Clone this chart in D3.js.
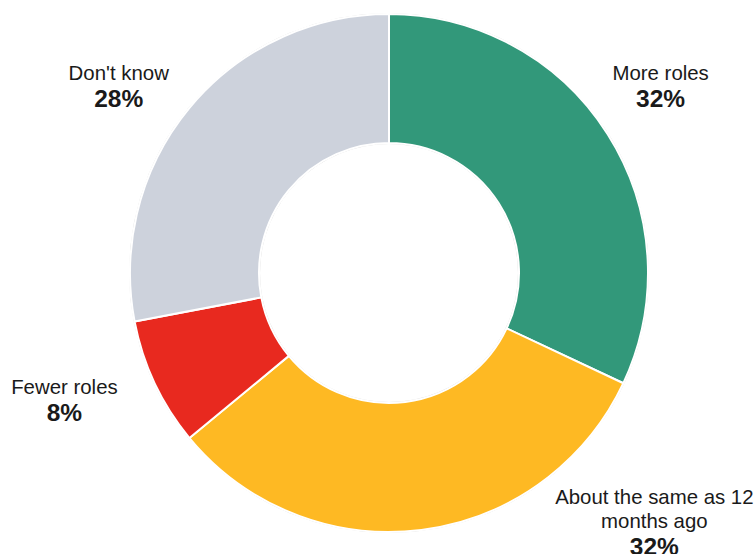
<!DOCTYPE html>
<html>
<head>
<meta charset="utf-8">
<script src="https://cdn.jsdelivr.net/npm/d3@7"></script>
<style>
  html, body { margin: 0; padding: 0; background: #fff; }
  svg { display: block; }
  text { font-family: "Liberation Sans", Arial, sans-serif; fill: #1a1a1a; }
</style>
</head>
<body>
<svg id="chart" width="755" height="554"></svg>
<script>
// Survey answers and their shares (percent)
const categories = ["More roles", "About the same as 12 months ago", "Fewer roles", "Don't know"];
const shares = [32, 32, 8, 28];
const colors = ["#32987a", "#feb923", "#e8291f", "#cdd2dc"];
// Wrapped label lines for each answer
const labelLines = [["More roles"], ["About the same as 12", "months ago"], ["Fewer roles"], ["Don't know"]];

const width = 755, height = 554;
const cx = 389, cy = 273;
const outerR = 259, innerR = 130;

// Label placement: point at labelRadius on the slice's mid-angle, shifted by a nudge;
// the resulting point is the baseline of the first label line
const labelRadius = 330;
const labelNudge = [[-7, -16], [224, -96], [-26, -19.5], [-16, 17.5]];
const lineH = 23.5, valueGap = 27;

const svg = d3.select("#chart");
const g = svg.append("g").attr("transform", `translate(${cx},${cy})`);

const data = categories.map((c, i) => ({ name: c, value: shares[i], color: colors[i], lines: labelLines[i], nudge: labelNudge[i] }));

const pie = d3.pie().sort(null).value(d => d.value);
const arc = d3.arc().innerRadius(innerR).outerRadius(outerR);
const arcs = pie(data);

// faint rims around the ring
g.append("circle").attr("r", outerR + 0.5).attr("fill", "none").attr("stroke", "#d9d9d9").attr("stroke-width", 1);
g.append("circle").attr("r", innerR - 0.5).attr("fill", "none").attr("stroke", "#d9d9d9").attr("stroke-width", 1);

g.selectAll("path.slice")
  .data(arcs)
  .join("path")
  .attr("class", "slice")
  .attr("d", arc)
  .attr("fill", d => d.data.color)
  .attr("stroke", "#fff")
  .attr("stroke-width", 2)
  .attr("stroke-linejoin", "round");

// labels
const labels = g.selectAll("g.label")
  .data(arcs)
  .join("g")
  .attr("class", "label")
  .attr("transform", d => {
    const a = (d.startAngle + d.endAngle) / 2;
    const x = labelRadius * Math.sin(a) + d.data.nudge[0];
    const y = -labelRadius * Math.cos(a) + d.data.nudge[1];
    return `translate(${x},${y})`;
  });

labels.each(function(d) {
  const el = d3.select(this);
  const n = d.data.lines.length;
  d.data.lines.forEach((t, i) => {
    el.append("text")
      .attr("text-anchor", "middle")
      .attr("x", 0)
      .attr("y", i * lineH)
      .style("font-size", "20.4px")
      .text(t);
  });
  el.append("text")
    .attr("text-anchor", "middle")
    .attr("x", 0)
    .attr("y", (n - 1) * lineH + valueGap)
    .style("font-size", "24.5px")
    .style("font-weight", "bold")
    .text(d3.format("d")(d.data.value) + "%");
});
</script>
</body>
</html>
